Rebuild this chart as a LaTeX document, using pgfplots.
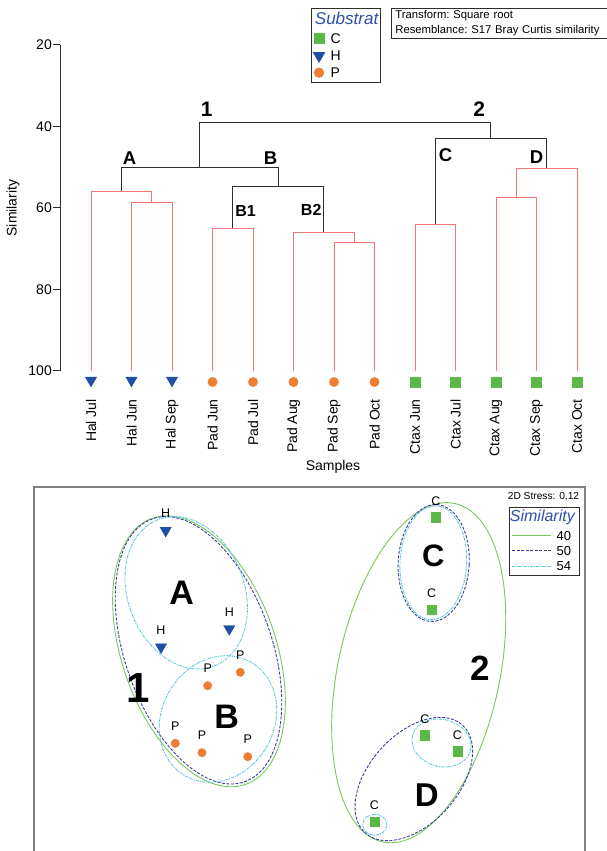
\documentclass[border=0pt]{standalone}
\usepackage{pgfplots}
\pgfplotsset{compat=1.18}
\usepackage{fontspec}
\setmainfont{Liberation Sans}
\definecolor{hblue}{RGB}{31,78,163}
\definecolor{porange}{RGB}{237,125,49}
\definecolor{cgreen}{RGB}{90,185,70}
\definecolor{dred}{RGB}{238,120,120}
\definecolor{dgray}{RGB}{45,45,45}
\definecolor{titleblue}{RGB}{45,80,170}
\definecolor{simgreen}{RGB}{120,200,90}
\definecolor{snavy}{RGB}{60,60,160}
\definecolor{scyan}{RGB}{90,200,225}
\definecolor{framegray}{RGB}{128,128,128}
\newcommand{\tstrut}{\rule[-3.5pt]{0pt}{17pt}}
\newcommand{\bstrut}{\rule[-2.9pt]{0pt}{15.2pt}}
\begin{document}
\begin{tikzpicture}
\useasboundingbox (0,0) rectangle (606pt,851pt);

% ---------------- nMDS ----------------
\begin{axis}[
  at={(34pt,-5pt)}, anchor=south west,
  x=1pt, y=1pt, xmin=34, xmax=585, ymin=-5, ymax=364,
  xtick=\empty, ytick=\empty,
  axis line style={draw=framegray, line width=1.8pt},
  legend style={at={(axis description cs:0.9909,0.9458)}, anchor=north east,
    draw=dgray, line width=0.8pt, font=\fontsize{13}{13}\selectfont,
    inner xsep=2pt, inner ysep=1.5pt, row sep=0pt, column sep=3pt,
    nodes={inner xsep=2pt, inner ysep=0pt, text depth=, text height=}},
  legend cell align=left,
  legend image code/.code={\draw[#1] (0pt,0pt) -- (39pt,0pt);},
]
\addlegendimage{empty legend}
\addlegendentry{\rule[-6.3pt]{0pt}{19.2pt}\hspace*{-46.7pt}\makebox[65.7pt][l]{\fontsize{16}{16}\selectfont\color{titleblue}\itshape Similarity}}
% legend keys for the contour levels (kept outside the visible window)
\addplot[simgreen, line width=0.9pt] coordinates {(20,380)(21,380)};
\addlegendentry{\bstrut 40}
\addplot[snavy, line width=0.9pt, dash pattern=on 3pt off 1.5pt] coordinates {(20,381)(21,381)};
\addlegendentry{\bstrut 50}
\addplot[scyan, line width=0.9pt, dash pattern=on 3pt off 1pt on 1pt off 1pt] coordinates {(20,382)(21,382)};
\addlegendentry{\bstrut 54}

% similarity contours
\draw[simgreen, line width=0.9pt, rotate around={19.3:(axis cs:199,199.7)}] (axis cs:199,199.7) ellipse [x radius=77pt, y radius=141pt];
\draw[snavy, line width=0.9pt, dash pattern=on 3pt off 1.5pt, rotate around={19.3:(axis cs:198.5,200.7)}] (axis cs:198.5,200.7) ellipse [x radius=73.5pt, y radius=139.3pt];
\draw[scyan, line width=0.9pt, dash pattern=on 3pt off 1pt on 1pt off 1pt, rotate around={20.8:(axis cs:186.2,258.2)}] (axis cs:186.2,258.2) ellipse [x radius=58.3pt, y radius=78.4pt];
\draw[scyan, line width=0.9pt, dash pattern=on 3pt off 1pt on 1pt off 1pt, rotate around={-31:(axis cs:218,132)}] (axis cs:218,132) ellipse [x radius=56pt, y radius=65.7pt];
\draw[simgreen, line width=0.9pt, rotate around={-12:(axis cs:418.7,178.3)}] (axis cs:418.7,178.3) ellipse [x radius=81pt, y radius=173pt];
\draw[snavy, line width=0.9pt, dash pattern=on 3pt off 1.5pt, rotate around={-3:(axis cs:433.7,288)}] (axis cs:433.7,288) ellipse [x radius=35.5pt, y radius=58.5pt];
\draw[scyan, line width=0.9pt, dash pattern=on 3pt off 1pt on 1pt off 1pt, rotate around={-3:(axis cs:433.3,288.2)}] (axis cs:433.3,288.2) ellipse [x radius=33.3pt, y radius=57pt];
\draw[snavy, line width=0.9pt, dash pattern=on 3pt off 1.5pt, rotate around={-42:(axis cs:413.8,72)}] (axis cs:413.8,72) ellipse [x radius=44.6pt, y radius=72.6pt];
\draw[scyan, line width=0.9pt, dash pattern=on 3pt off 1pt on 1pt off 1pt, rotate around={-15:(axis cs:441.5,108)}] (axis cs:441.5,108) ellipse [x radius=30pt, y radius=23.5pt];
\draw[scyan, line width=0.9pt, dash pattern=on 3pt off 1pt on 1pt off 1pt] (axis cs:374.7,26.3) ellipse [x radius=12pt, y radius=10.5pt];

% samples
\addplot[only marks, mark=triangle*, mark size=6.5pt, mark options={rotate=180}, color=hblue, forget plot,
  nodes near coords={H}, every node near coord/.style={anchor=center, yshift=17pt, inner sep=0pt, text=black, font=\fontsize{12.5}{12.5}\selectfont}]
  coordinates {(165.7,320.5)(229.3,222.2)(161,203.9)};
\addplot[only marks, mark=*, mark size=4.2pt, color=porange, forget plot,
  nodes near coords={P}, every node near coord/.style={anchor=center, yshift=17pt, inner sep=0pt, text=black, font=\fontsize{12.5}{12.5}\selectfont}]
  coordinates {(207.7,165.3)(240.3,178.7)(175.3,107.7)(202,98.3)(247.7,94.3)};
\addplot[only marks, mark=square*, mark size=4.6pt, color=cgreen, forget plot,
  nodes near coords={C}, every node near coord/.style={anchor=center, yshift=16.5pt, inner sep=0pt, text=black, font=\fontsize{12.5}{12.5}\selectfont}]
  coordinates {(436,333.7)(431.7,241.3)(425,115.7)(457.3,99.7)(374.3,29)};

\node[font=\bfseries\fontsize{34}{34}\selectfont] at (axis cs:181.7,257.7) {A};
\node[font=\bfseries\fontsize{34}{34}\selectfont] at (axis cs:226.7,134.3) {B};
\node[font=\bfseries\fontsize{42}{42}\selectfont] at (axis cs:138.3,162.7) {1};
\node[font=\bfseries\fontsize{31}{31}\selectfont] at (axis cs:433.3,294.7) {C};
\node[font=\bfseries\fontsize{35}{35}\selectfont] at (axis cs:480,183) {2};
\node[font=\bfseries\fontsize{33}{33}\selectfont] at (axis cs:426.7,56.3) {D};
\node[anchor=east, inner sep=0pt, font=\fontsize{10.2}{10.2}\selectfont] at (axis cs:579.3,354) {2D Stress: 0,12};
\end{axis}

% ---------------- Dendrogram ----------------
\begin{axis}[
  at={(60pt,806pt)}, anchor=north west,
  x=40.5pt, y=4.075pt, y dir=reverse,
  xmin=-0.7654, xmax=12.716, ymin=20, ymax=100,
  clip=false,
  axis y line*=left, axis x line*=bottom,
  x axis line style={draw=none},
  y axis line style={draw=dgray, line width=1pt},
  ytick={20,40,60,80,100},
  tick align=outside, major tick length=7pt,
  ytick style={draw=dgray, line width=1pt},
  xtick={0,...,12}, xtick style={draw=none},
  xticklabels={Hal Jul, Hal Jun, Hal Sep, Pad Jun, Pad Jul, Pad Aug, Pad Sep, Pad Oct, Ctax Jun, Ctax Jul, Ctax Aug, Ctax Sep, Ctax Oct},
  xticklabel style={rotate=90, anchor=east, inner sep=0pt, font=\fontsize{14}{14}\selectfont},
  xticklabel shift=21pt,
  yticklabel style={font=\fontsize{14}{14}\selectfont, inner sep=1pt},
  /pgf/number format/assume math mode=true,
  xlabel={Samples}, ylabel={Similarity},
  label style={font=\fontsize{14}{14}\selectfont},
  xlabel style={at={(axis description cs:0.5,-0.294)}, anchor=center},
  ylabel style={at={(axis description cs:-0.0861,0.5)}, anchor=center},
  legend style={at={(axis description cs:0.4597,1.1135)}, anchor=north west,
    draw=dgray, line width=0.8pt, font=\fontsize{14}{14}\selectfont,
    inner xsep=2pt, inner ysep=1.5pt, row sep=0pt, column sep=4pt,
    nodes={inner xsep=2pt, inner ysep=0pt, text depth=, text height=}},
  legend cell align=left,
  legend image code/.code={\draw[mark repeat=2,mark phase=2,#1] plot coordinates {(0pt,0pt)(5pt,0pt)(10pt,0pt)};},
]
\addlegendimage{empty legend}
\addlegendentry{\rule[-5.8pt]{0pt}{20.3pt}\hspace*{-15.7pt}\makebox[61.7pt][l]{\fontsize{17}{17}\selectfont\color{titleblue}\itshape Substrat}}

% leaf symbols
\addplot[only marks, mark=square*, mark size=5pt, color=cgreen] coordinates {(8,102.7)(9,102.7)(10,102.7)(11,102.7)(12,102.7)};
\addlegendentry{\tstrut C}
\addplot[only marks, mark=triangle*, mark size=6.5pt, mark options={rotate=180}, color=hblue] coordinates {(0,102.3)(1,102.3)(2,102.3)};
\addlegendentry{\tstrut H}
\addplot[only marks, mark=*, mark size=4.7pt, color=porange] coordinates {(3,102.7)(4,102.7)(5,102.7)(6,102.7)(7,102.7)};
\addlegendentry{\tstrut P}

% red (within-group) branches
\addplot[dred, line width=0.8pt, forget plot] coordinates {(1,100)(1,58.6)(2,58.6)(2,100)};
\addplot[dred, line width=0.8pt, forget plot] coordinates {(0,100)(0,55.9)(1.5,55.9)(1.5,58.6)};
\addplot[dred, line width=0.8pt, forget plot] coordinates {(3,100)(3,64.9)(4,64.9)(4,100)};
\addplot[dred, line width=0.8pt, forget plot] coordinates {(6,100)(6,68.5)(7,68.5)(7,100)};
\addplot[dred, line width=0.8pt, forget plot] coordinates {(5,100)(5,65.9)(6.5,65.9)(6.5,68.5)};
\addplot[dred, line width=0.8pt, forget plot] coordinates {(8,100)(8,64.0)(9,64.0)(9,100)};
\addplot[dred, line width=0.8pt, forget plot] coordinates {(10,100)(10,57.5)(11,57.5)(11,100)};
\addplot[dred, line width=0.8pt, forget plot] coordinates {(10.5,57.5)(10.5,50.3)(12,50.3)(12,100)};
% black (significant) branches
\addplot[dgray, line width=0.9pt, forget plot] coordinates {(3.5,64.9)(3.5,54.8)(5.75,54.8)(5.75,65.9)};
\addplot[dgray, line width=0.9pt, forget plot] coordinates {(0.75,55.9)(0.75,50.0)(4.625,50.0)(4.625,54.8)};
\addplot[dgray, line width=0.9pt, forget plot] coordinates {(8.5,64.0)(8.5,42.9)(11.25,42.9)(11.25,50.3)};
\addplot[dgray, line width=0.9pt, forget plot] coordinates {(2.6875,50.0)(2.6875,39.0)(9.875,39.0)(9.875,42.9)};

\node[font=\bfseries\fontsize{21}{21}\selectfont] at (axis cs:2.859,35.78) {1};
\node[font=\bfseries\fontsize{21}{21}\selectfont] at (axis cs:9.588,35.7) {2};
\node[font=\bfseries\fontsize{18.5}{18.5}\selectfont] at (axis cs:0.95,47.73) {A};
\node[font=\bfseries\fontsize{18.5}{18.5}\selectfont] at (axis cs:4.434,47.73) {B};
\node[font=\bfseries\fontsize{18.5}{18.5}\selectfont] at (axis cs:8.756,47.0) {C};
\node[font=\bfseries\fontsize{18.5}{18.5}\selectfont] at (axis cs:11.0,47.5) {D};
\node[font=\bfseries\fontsize{16}{16}\selectfont] at (axis cs:3.815,60.66) {B1};
\node[font=\bfseries\fontsize{16}{16}\selectfont] at (axis cs:5.437,60.5) {B2};
\end{axis}

\node[draw=dgray, line width=0.7pt, anchor=north west, align=left, text width=210pt,
      inner xsep=4pt, inner ysep=2pt, font=\fontsize{11.3}{15.4}\selectfont]
  at (391pt,843pt) {\frenchspacing Transform: Square root\\Resemblance: S17 Bray Curtis similarity};
\end{tikzpicture}
\end{document}
